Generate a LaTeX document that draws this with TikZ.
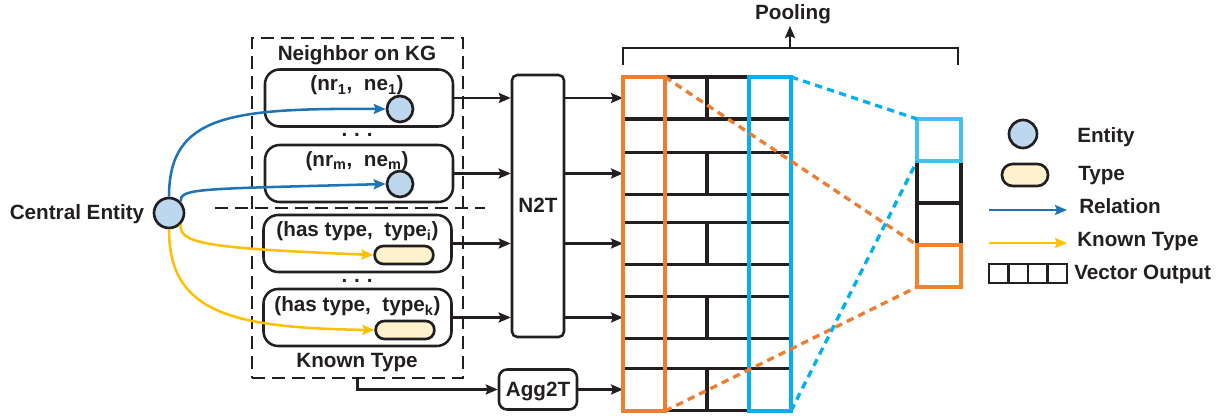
\documentclass[tikz,border=0pt]{standalone}
\usepackage{fontspec}
\setmainfont{Liberation Sans}
\usetikzlibrary{arrows.meta}
\definecolor{relblue}{HTML}{1F73B7}
\definecolor{ktyellow}{HTML}{FFC000}
\definecolor{entfill}{HTML}{BDD7EE}
\definecolor{typfill}{HTML}{FFF2CC}
\definecolor{orng}{HTML}{ED7D31}
\definecolor{orngl}{HTML}{F5822F}
\definecolor{cyn}{HTML}{00B0F0}
\definecolor{cynl}{HTML}{45C0EE}
\definecolor{ink}{HTML}{231F20}
\newcommand{\lbf}{\fontsize{15.5}{18}\selectfont\bfseries}
\begin{document}
\begin{tikzpicture}[x=0.75pt,y=-0.75pt,
  every node/.style={text=ink},
  lbl/.style={font=\lbf, inner sep=0pt},
  ent/.style={circle, draw=ink, line width=2pt, fill=entfill, minimum size=19.5pt, inner sep=0pt},
  typ/.style={draw=ink, line width=2pt, fill=typfill, rounded corners=6.5pt, minimum width=44pt, minimum height=13.5pt, inner sep=0pt},
  rbox/.style={draw=ink, line width=1.9pt, rounded corners=11pt, minimum width=141pt, minimum height=42.75pt, inner sep=0pt},
  tip/.style={-{Stealth[length=9pt,width=7.5pt,inset=1.5pt]}},
  arr/.style={tip, line width=1.8pt, draw=ink},
  rel/.style={tip, line width=1.9pt, draw=relblue},
  kt/.style={tip, line width=1.9pt, draw=ktyellow},
  rownode/.style={draw=gray!40, line width=2.6pt, minimum width=126pt, minimum height=31.5pt, inner sep=0pt, outer sep=0pt},
  colnode/.style={line width=3pt, minimum width=31.5pt, minimum height=250.5pt, inner sep=0pt, outer sep=0pt},
  outcell/.style={line width=2.4pt, minimum width=33pt, minimum height=31.5pt, inner sep=0pt, outer sep=0pt},
  dashln/.style={line width=2.5pt, dash pattern=on 5.5pt off 4pt},
  vcell/.style={draw=ink, line width=2pt, minimum width=14.6pt, minimum height=14.25pt, inner sep=0pt}
]
\useasboundingbox (0,0) rectangle (1229,416);

% ---------- left part ----------
\node[draw=ink, line width=1.8pt, dash pattern=on 10pt off 5pt, minimum width=158.25pt, minimum height=255pt, inner sep=0pt] (dbox) at (357.5,208) {};
\coordinate (sepL) at (215,208);
\coordinate (sepR) at (485,208);
\draw[ink, line width=1.8pt, dash pattern=on 10pt off 5pt] (sepL) -- (sepR);

\node[lbl, anchor=base] (nkg) at (357,61) {Neighbor on KG};
\node[rbox] (b1) at (359,98) {};
\node[rbox] (b2) at (359,173.5) {};
\node[rbox] (b3) at (357.5,243.5) {};
\node[rbox] (b4) at (357.5,317.5) {};
\node[lbl, anchor=base] (t1) at (357,91) {(nr\textsubscript{1},\ \ ne\textsubscript{1})};
\node[lbl, anchor=base] (t2) at (357,167) {(nr\textsubscript{m},\ \ ne\textsubscript{m})};
\node[lbl, anchor=base] (t3) at (357.5,237) {(has type,\ \ type\textsubscript{i})};
\node[lbl, anchor=base] (t4) at (357.5,312) {(has type,\ \ type\textsubscript{k})};
\node[lbl, anchor=base] (d1) at (357,137) {.\,\,.\,\,.};
\node[lbl, anchor=base] (d2) at (357,283) {.\,\,.\,\,.};
\node[lbl, anchor=base] (kty) at (357,368) {Known Type};

\node[ent] (e1) at (400,109) {};
\node[ent] (e2) at (400,184) {};
\node[typ] (p1) at (404,255) {};
\node[typ] (p2) at (405,330) {};

\node[ent, minimum size=22.5pt] (ce) at (169,213) {};
\node[lbl, anchor=base] (cet) at (77,220) {Central Entity};

\draw[rel] (ce.north) .. controls (169,115) and (230,108) .. (e1.west);
\draw[rel] (ce.north east) .. controls (180,188) and (200,189) .. (e2.west);
\draw[kt] (ce.south east) .. controls (180,243) and (200,248) .. (p1.west);
\draw[kt] (ce.south) .. controls (169,312) and (230,328) .. (p2.west);

% ---------- N2T / Agg2T ----------
\node[draw=ink, line width=1.9pt, rounded corners=4pt, minimum width=39pt, minimum height=196.5pt, inner sep=0pt] (n2t) at (538,206) {};
\node[lbl, anchor=base] (n2tt) at (538,213) {N2T};
\node[draw=ink, line width=1.9pt, rounded corners=6pt, minimum width=58.5pt, minimum height=30pt, inner sep=0pt] (agg) at (538,389.5) {};
\node[lbl, anchor=base] (aggt) at (538,397) {Agg2T};

% ---------- grid ----------
\node[rownode] (r1) at (707,98) {};
\node[rownode] (r2) at (707,173.5) {};
\node[rownode] (r3) at (707,243.5) {};
\node[rownode] (r4) at (707,317.5) {};
\node[rownode] (r5) at (707,389.5) {};
\foreach \r in {r1,r2,r3,r4,r5}{
  \draw[ink, line width=2.4pt] (\r.north west) -- (\r.north east) (\r.south west) -- (\r.south east) (\r.north) -- (\r.south);
}

\foreach \b/\r in {b1/r1,b2/r2,b3/r3,b4/r4}{
  \draw[arr] (\b.east) -- (\b.east -| n2t.west);
  \draw[arr] (\r.west -| n2t.east) -- (\r.west);
}
\draw[arr] (dbox.south) |- (agg.west);
\draw[arr] (agg.east) -- (r5.west);

\node[colnode, draw=orng] (ocol) at (644,244) {};
\node[colnode, draw=cyn] (ccol) at (770,244) {};

% ---------- output vector ----------
\node[outcell, draw=gray!40] (o2) at (939,182) {};
\node[outcell, draw=gray!40] (o3) at (939,224) {};
\draw[ink, line width=2.4pt] (o2.north east) -- (o2.south east) (o2.north west) -- (o2.south west)
  (o3.north west) -- (o3.north east) -- (o3.south east) (o3.north west) -- (o3.south west);
\node[outcell, draw=cynl] (o1) at (939,140) {};
\node[outcell, draw=orngl] (o4) at (939,266) {};

\draw[dashln, draw=orng] (ocol.north east) -- (o4.north west);
\draw[dashln, draw=orng] (ocol.south east) -- (o4.south west);
\draw[dashln, draw=cyn] (ccol.north east) -- (o1.north west);
\draw[dashln, draw=cyn] (ccol.south east) -- (o1.south west);

% ---------- pooling ----------
\coordinate (bl) at (623,65);
\coordinate (bt1) at (623,48);
\coordinate (bt2) at (958,48);
\coordinate (br) at (958,65);
\coordinate (bm) at (790,48);
\coordinate (pm) at (790,26);
\draw[ink, line width=1.8pt] (bl) -- (bt1) -- (bt2) -- (br);
\draw[arr] (bm) -- (pm);
\node[lbl, anchor=base] (pool) at (793,20) {Pooling};

% ---------- legend ----------
\node[ent, minimum size=21pt] (le) at (1023,134) {};
\node[lbl, anchor=base west] (let) at (1077,143) {Entity};
\node[typ, minimum width=34.5pt, minimum height=16.5pt, rounded corners=8pt] (lt) at (1025,175) {};
\node[lbl, anchor=base west] (ltt) at (1078,181) {Type};
\coordinate (lr1) at (989,210);
\coordinate (lr2) at (1067,210);
\draw[rel] (lr1) -- (lr2);
\node[lbl, anchor=base west] (lrt) at (1079,214) {Relation};
\coordinate (lk1) at (989,243);
\coordinate (lk2) at (1067,243);
\draw[kt] (lk1) -- (lk2);
\node[lbl, anchor=base west] (lkt) at (1077,247) {Known Type};
\node[vcell] (v1) at (998.75,273.5) {};
\node[vcell] (v2) at (1018.25,273.5) {};
\node[vcell] (v3) at (1037.75,273.5) {};
\node[vcell] (v4) at (1057.25,273.5) {};
\node[lbl, anchor=base west] (lvt) at (1074,280) {Vector Output};
\end{tikzpicture}
\end{document}
